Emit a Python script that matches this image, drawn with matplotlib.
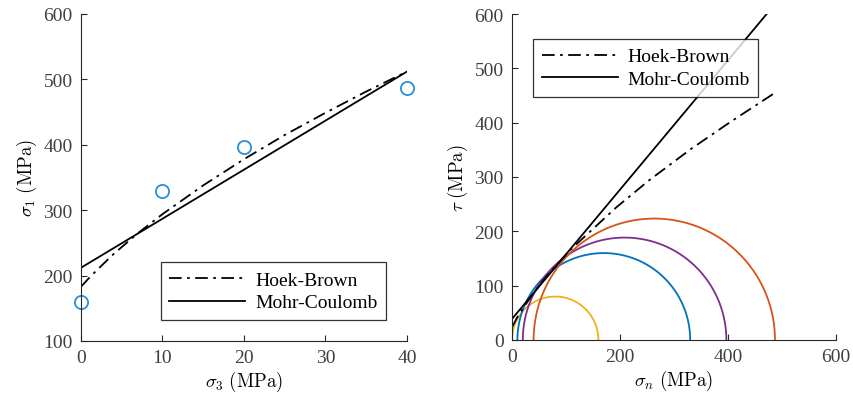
import numpy as np
import matplotlib
matplotlib.use('Agg')
import matplotlib.pyplot as plt

plt.rcParams['font.family'] = ['Liberation Serif', 'DejaVu Serif']
plt.rcParams['mathtext.fontset'] = 'cm'

# test data
sig3 = [0, 10, 20, 40]
sig1 = [160, 330, 397, 487]

# Hoek-Brown curve, sigma1 vs sigma3
hb_s3 = [0, 1, 2, 4, 7, 10, 15, 20, 25, 30, 35, 40]
hb_s1 = [183, 196.5, 209, 233, 265, 294, 338, 378, 415, 449, 481.5, 512]

# Mohr-Coulomb line, sigma1 vs sigma3
mc_s3 = [0, 40]
mc_s1 = [212, 512]

# envelopes in tau - sigma_n space
hb_sn = [0, 4, 12, 38, 62, 107, 193, 254, 332, 407, 487]
hb_tau = [24, 31, 46, 84, 115, 165, 244, 294, 352, 403, 455]
mc_sn = [0, 480]
mc_tau = [38.7, 610]

circle_colors = ['#EDB120', '#0072BD', '#7E2F8E', '#D95319']
marker_color = '#2a8fd8'
dashdot = (0, (7, 3, 1.5, 3))

fig = plt.figure(figsize=(8.54, 4.02), dpi=100)
ax1 = fig.add_axes([81/854, 60/402, 326/854, 327/402])
ax2 = fig.add_axes([512/854, 61/402, 324/854, 326/402])

leg_kw = dict(fontsize=14, frameon=True, fancybox=False, edgecolor='black',
              handlelength=3.9, handletextpad=0.5, borderpad=0.45,
              labelspacing=0.25, borderaxespad=0)

ax1.plot(hb_s3, hb_s1, color='black', ls=dashdot, lw=1.3, label='Hoek-Brown')
ax1.plot(mc_s3, mc_s1, color='black', ls='-', lw=1.3, label='Mohr-Coulomb')
ax1.plot(sig3, sig1, 'o', mfc='none', mec=marker_color, ms=9.5, mew=1.3, clip_on=False)
ax1.set_xlim(0, 40)
ax1.set_ylim(100, 600)
ax1.set_xticks([0, 10, 20, 30, 40])
ax1.set_yticks([100, 200, 300, 400, 500, 600])
ax1.set_xlabel(r'$\sigma_3\ \mathrm{(MPa)}$', fontsize=13.5, labelpad=2)
ax1.set_ylabel(r'$\sigma_1\ \mathrm{(MPa)}$', fontsize=13.5, labelpad=3)
ax1.legend(loc='lower right', bbox_to_anchor=(0.936, 0.064), **leg_kw).get_frame().set_linewidth(0.9)

theta = np.linspace(0, np.pi, 200)
for s3, s1, c in zip(sig3, sig1, circle_colors):
    cen = (s1 + s3) / 2
    r = (s1 - s3) / 2
    ax2.plot(cen + r * np.cos(theta), r * np.sin(theta), color=c, lw=1.3)
ax2.plot(hb_sn, hb_tau, color='black', ls=dashdot, lw=1.3, label='Hoek-Brown')
ax2.plot(mc_sn, mc_tau, color='black', ls='-', lw=1.3, label='Mohr-Coulomb')
ax2.set_xlim(0, 600)
ax2.set_ylim(0, 600)
ax2.set_xticks([0, 200, 400, 600])
ax2.set_yticks([0, 100, 200, 300, 400, 500, 600])
ax2.set_xlabel(r'$\sigma_n\ \mathrm{(MPa)}$', fontsize=13.5, labelpad=2)
ax2.set_ylabel(r'$\tau\ \mathrm{(MPa)}$', fontsize=13.5, labelpad=3)
ax2.legend(loc='upper left', bbox_to_anchor=(0.065, 0.923), **leg_kw).get_frame().set_linewidth(0.9)

for ax in (ax1, ax2):
    ax.spines['top'].set_visible(False)
    ax.spines['right'].set_visible(False)
    ax.spines['left'].set_color('#262626')
    ax.spines['bottom'].set_color('#262626')
    ax.tick_params(direction='in', length=4, labelsize=14, colors='#262626',
                   labelcolor='#404040', pad=6)

fig.savefig('out.png', dpi=100)
